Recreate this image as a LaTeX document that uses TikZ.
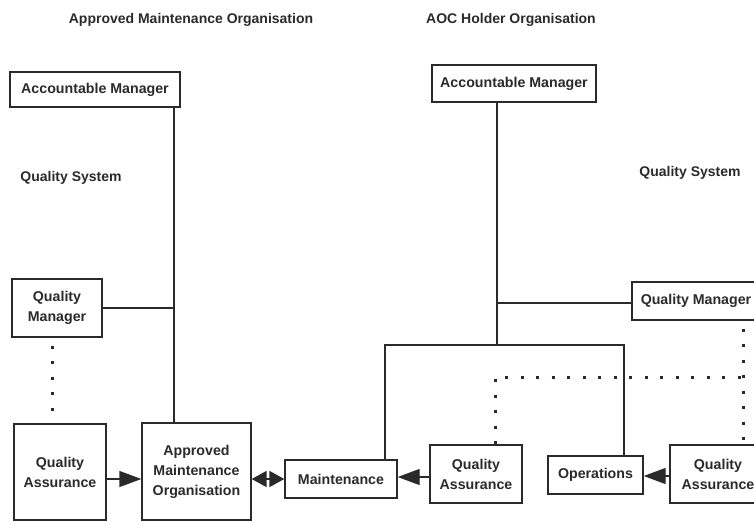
\documentclass[tikz,border=0pt]{standalone}
\usepackage{fontspec}
\setmainfont{Liberation Sans}
\usetikzlibrary{arrows.meta}
\definecolor{ink}{HTML}{2A2A2A}
\tikzset{
  box/.style={draw=ink, line width=1.4pt, fill=white, align=center, font=\fontsize{14.2}{20}\selectfont\bfseries, text=ink, inner sep=0pt},
  lbl/.style={font=\fontsize{14}{16}\selectfont\bfseries, text=ink},
  conn/.style={draw=ink, line width=1.4pt},
  dotline/.style={draw=ink, line width=3pt, dash pattern=on 3pt off 12.5pt},
  bigarrow/.style={conn, -{Triangle[length=22pt,width=16pt]}},
  dblarrow/.style={conn, line width=2pt, {Triangle[length=15pt,width=16pt]}-{Triangle[length=15pt,width=16pt]}}
}
\begin{document}
\begin{tikzpicture}[x=1pt,y=-1pt]
\useasboundingbox (0,0) rectangle (754,524);
\begin{scope}
\clip (0,0) rectangle (754,524);
% titles
\node[lbl] (t1) at (191,20) {Approved Maintenance Organisation};
\node[lbl] (t2) at (511,20) {AOC Holder Organisation};
\node[lbl] (qs1) at (71,178) {Quality System};
\node[lbl] (qs2) at (690,173) {Quality System};
% boxes
\node[box, minimum width=170pt, minimum height=35pt] (amL) at (95,89.5) {Accountable Manager};
\node[box, minimum width=164pt, minimum height=37pt] (amR) at (514,83.5) {Accountable Manager};
\node[box, minimum width=90pt, minimum height=58pt] (qmL) at (57,308) {Quality\\Manager};
\node[box, minimum width=92pt, minimum height=96pt] (qaL) at (60,472) {Quality\\Assurance};
\node[box, minimum width=109pt, minimum height=97pt] (amo) at (196.5,471.5) {Approved\\Maintenance\\Organisation};
\node[box, minimum width=112pt, minimum height=38pt] (mnt) at (341,479) {Maintenance};
\node[box, minimum width=92pt, minimum height=58pt] (qaM) at (476,474) {Quality\\Assurance};
\node[box, minimum width=95pt, minimum height=38pt] (ops) at (595.5,475) {Operations};
\node[box, minimum width=96pt, minimum height=58pt] (qaR) at (718,474) {Quality\\Assurance};
\node[box, minimum width=128pt, minimum height=38pt] (qmR) at (696,301) {Quality Manager};
% helper coordinates
\coordinate (vL) at (174,0);
\coordinate (dL) at (52,0);
\coordinate (vR) at (497,0);
\coordinate (bM) at (385,0);
\coordinate (bO) at (624,0);
\coordinate (hT) at (0,345);
\coordinate (hQ) at (0,303);
\coordinate (dR) at (743,0);
\coordinate (dM) at (495,0);
\coordinate (hD) at (0,377);
\coordinate (aL) at (0,479);
\coordinate (aM) at (0,477);
\coordinate (aR) at (0,476);
% left tree
\draw[conn] (amL.south -| vL) -- (amo.north -| vL);
\draw[conn] (qmL.east) -- (qmL.east -| vL);
\draw[dotline] (qmL.south -| dL) ++(0,8) -- (qaL.north -| dL);
\draw[bigarrow] (qaL.east |- aL) -- (amo.west |- aL);
\draw[dblarrow] (amo.east |- aL) -- (mnt.west |- aL);
% right tree
\draw[conn] (amR.south -| vR) -- (vR |- hT);
\draw[conn] (mnt.north -| bM) -- (bM |- hT) -- (bO |- hT) -- (ops.north -| bO);
\draw[conn] (vR |- hQ) -- (qmR.west |- hQ);
\draw[bigarrow] (qaM.west |- aM) -- (mnt.east |- aM);
\draw[bigarrow] (qaR.west |- aR) -- (ops.east |- aR);
\draw[dotline] (qmR.south -| dR) ++(0,8) -- (qaR.north -| dR);
\draw[dotline] (qaM.north -| dM) -- (dM |- hD) -- (dR |- hD);
\end{scope}
\end{tikzpicture}
\end{document}
